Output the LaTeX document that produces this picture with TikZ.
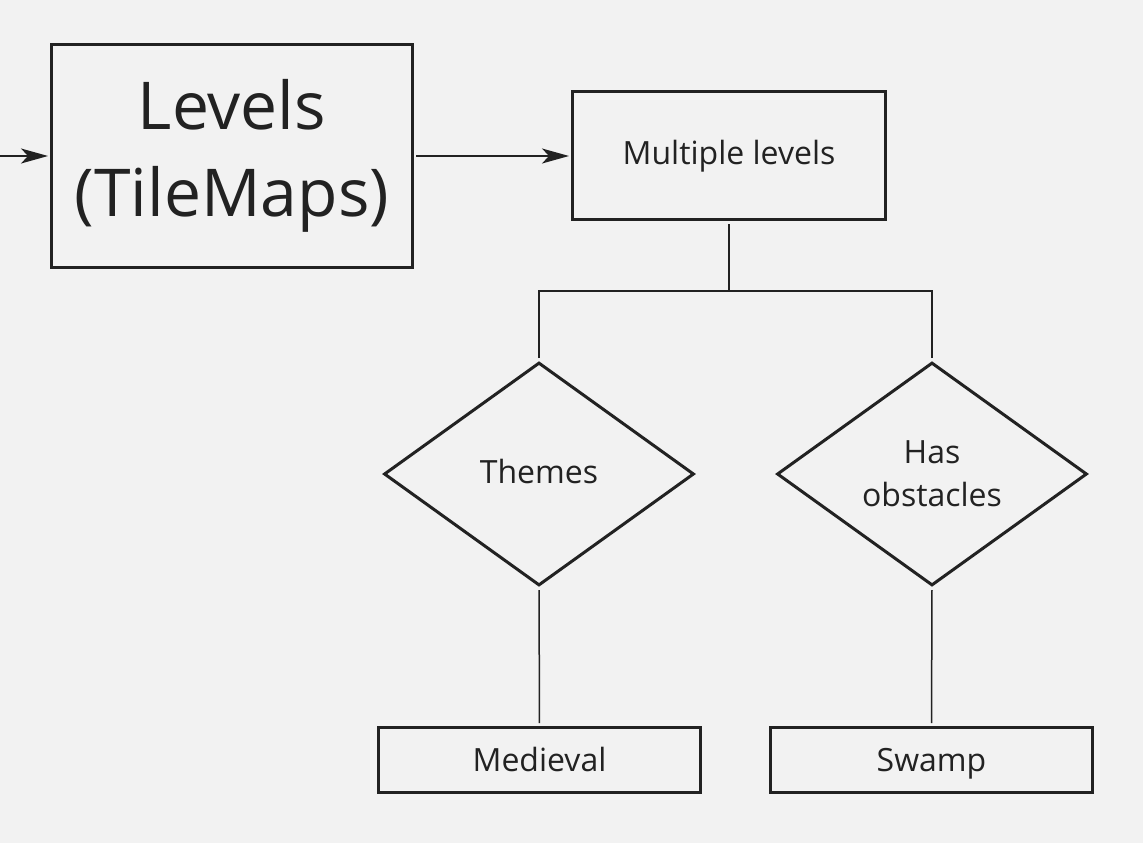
\documentclass[tikz,border=0pt]{standalone}
\usepackage{fontspec}
\setmainfont{Open Sans}
\usetikzlibrary{shapes.geometric,arrows.meta}
\definecolor{bg}{HTML}{F2F2F2}
\definecolor{ink}{HTML}{222222}
\begin{document}
\begin{tikzpicture}[x=1pt,y=-1pt,
  box/.style={draw=ink, line width=3pt, rectangle, inner sep=0pt, text=ink, align=center},
  dia/.style={draw=ink, line width=3pt, diamond, inner sep=0pt, text=ink, align=center,
    minimum width=310pt, minimum height=223pt, font=\fontsize{32}{43}\selectfont},
  mid/.style={font=\fontsize{32}{43}\selectfont},
  one/.style={text height=23pt, text depth=5pt},
  conn/.style={draw=ink, line width=1.5pt},
  arr/.style={conn, -{Stealth[length=27pt,width=15pt,inset=7pt]}}]
\fill[bg] (0,0) rectangle (1143,843);
\useasboundingbox (0,0) rectangle (1143,843);
\node[box, minimum width=361pt, minimum height=223pt, font=\fontsize{66}{87}\selectfont] (levels) at (232,156) {Levels\\(TileMaps)};
\node[box, mid, one, minimum width=313pt, minimum height=128pt] (multi) at (729,155.5) {Multiple levels};
\node[dia, one] (themes) at (539,474) {Themes};
\node[dia] (has) at (932,474) {Has\\obstacles};
\node[box, mid, text height=25pt, text depth=3pt, minimum width=322pt, minimum height=65pt] (med) at (539.5,760) {Medieval};
\node[box, mid, text height=25pt, text depth=3pt, minimum width=322pt, minimum height=65pt] (swamp) at (931.5,760) {Swamp};
\coordinate (in) at (0,156);
\coordinate (j) at (729,291);
\draw[arr, shorten >=2pt] (in) -- (levels.west);
\draw[arr, shorten <=2pt, shorten >=2pt] (levels.east) -- (multi.west |- levels.east);
\draw[conn, shorten <=3pt] (multi.south) -- (j);
\draw[conn, shorten <=3pt, shorten >=3pt] (themes.north) -- (themes.north |- j) -- (has.north |- j) -- (has.north);
\draw[conn, shorten <=3pt, shorten >=3pt] (themes.south) -- (med.north);
\draw[conn, shorten <=3pt, shorten >=3pt] (has.south) -- (swamp.north);
\end{tikzpicture}
\end{document}
